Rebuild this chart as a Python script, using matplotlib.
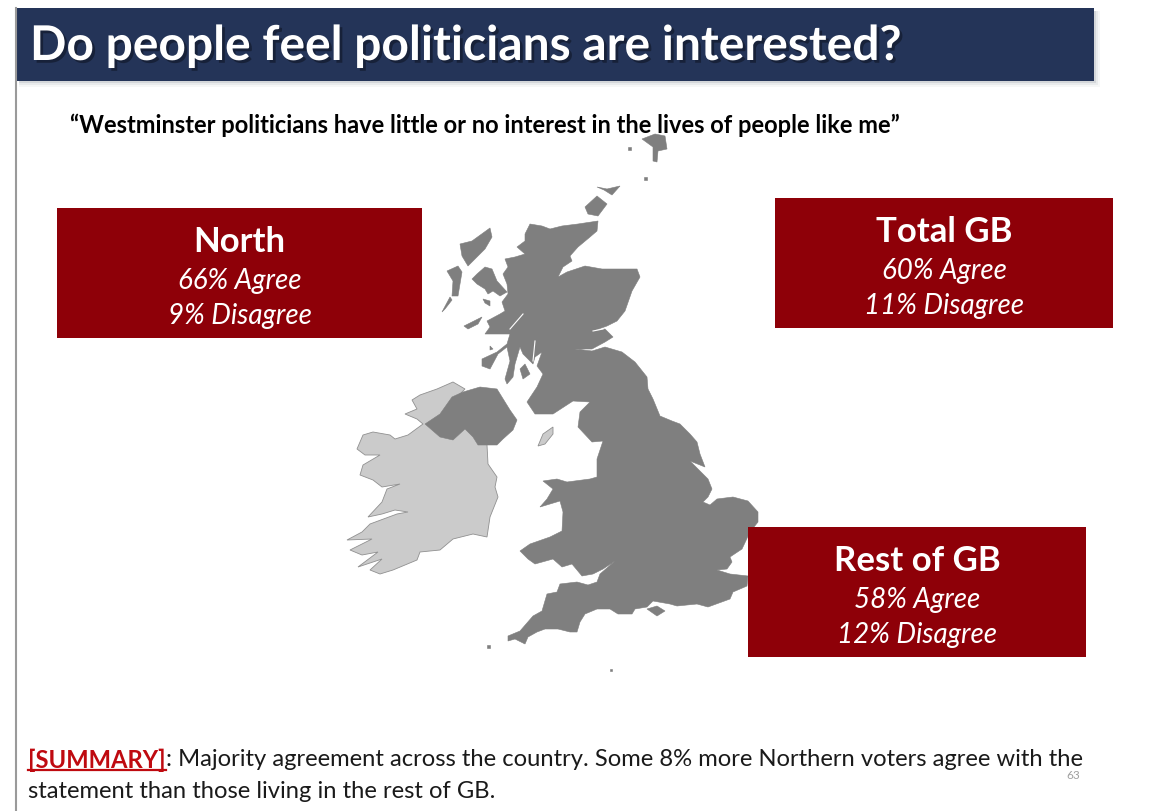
import matplotlib as mpl
mpl.use('Agg')
import matplotlib.pyplot as plt
import matplotlib.patheffects as pe
from matplotlib.patches import Polygon, Rectangle

plt.rcParams['font.family'] = ['Lato', 'DejaVu Sans']

# survey results per region
regions = ['North', 'Total GB', 'Rest of GB']
agree = [66, 60, 58]
disagree = [9, 11, 12]

title = 'Do people feel politicians are interested?'
quote = '\u201cWestminster politicians have little or no interest in the lives of people like me\u201d'
summary_tag = '[SUMMARY]'
summary_1 = ': Majority agreement across the country. Some 8% more Northern voters agree with the'
summary_2 = 'statement than those living in the rest of GB.'
page_no = '63'

RED = '#8e0008'
NAVY = '#243458'
DARK = '#7f7f7f'
LIGHT = '#cbcbcb'

# map outlines, in page pixels
gb = [(530,225),(542,227),(550,230),(562,227),(578,225),(598,222),(597,232),(590,238),(578,248),(570,257),
      (572,262),(563,268),(558,278),(567,273),(585,267),(602,270),(622,270),(637,270),(640,278),(632,292),
      (625,312),(617,322),(607,327),(593,332),(605,330),(613,338),(605,343),(592,350),(575,350),(592,352),
      (605,348),(622,353),(635,363),(647,378),(648,390),(653,400),(660,417),(672,422),(680,425),(690,435),
      (697,443),(700,455),(705,468),(690,462),(698,470),(708,480),(712,490),(708,498),(703,503),(710,506),
      (717,500),(733,498),(748,502),(758,513),(758,523),(750,533),(742,550),(730,558),(732,563),(727,570),
      (717,571),(730,575),(748,577),(747,587),(733,593),(730,600),(708,608),(697,605),(677,607),(670,605),
      (653,602),(647,608),(635,610),(632,615),(618,615),(610,610),(597,610),(585,615),(580,623),(577,633),
      (570,633),(558,630),(545,630),(537,633),(528,638),(525,645),(515,640),(508,642),(508,637),(520,632),
      (533,617),(542,612),(547,595),(557,593),(560,585),(577,583),(588,586),(597,583),(600,575),(615,562),
      (603,570),(593,575),(582,577),(572,565),(562,568),(553,560),(535,565),(528,560),(520,552),(530,545),
      (550,538),(562,532),(563,513),(560,502),(540,508),(547,500),(553,490),(543,482),(557,480),(567,483),
      (590,480),(597,478),(597,460),(603,442),(592,443),(578,428),(580,413),(590,403),(573,402),(553,415),
      (535,415),(527,403),(537,388),(543,375),(537,367),(542,353),(535,358),(533,365),(523,355),(520,348),
      (515,365),(513,378),(507,385),(505,380),(510,362),(507,348),(498,355),(490,370),(482,367),(482,360),
      (497,353),(507,345),(510,335),(485,335),(490,328),(487,322),(500,315),(505,312),(502,303),(508,295),
      (507,285),(503,275),(508,268),(505,260),(515,258),(525,255),(517,248),(525,242),(525,235)]
islands = [
    [(472,280),(477,275),(485,268),(492,270),(497,282),(507,293),(500,297),(493,292),(488,295),(485,290),(477,285)],
    [(460,245),(472,242),(490,229),(492,238),(485,250),(468,267),(462,257)],
    [(447,272),(458,267),(462,273),(458,297),(452,297),(453,282)],
    [(442,313),(450,298),(452,301),(445,310)],
    [(483,300),(490,302),(490,307),(485,304)],
    [(464,327),(482,318),(478,325),(468,330)],
    [(490,347),(493,350),(490,351)],
    [(520,370),(525,365),(530,375),(523,380)],
    [(585,208),(597,197),(607,205),(598,217),(588,215)],
    [(597,188),(607,190),(620,187),(612,196),(604,191)],
    [(642,140),(655,135),(665,137),(667,150),(658,152),(657,163),(653,162),(653,148)],
    [(644,178),(647,178),(647,181),(644,181)],
    [(628,148),(631,148),(631,151),(628,151)],
    [(647,610),(657,607),(665,612),(657,617)],
    [(487,646),(490,646),(490,649),(487,649)],
    [(610,670),(612,670),(612,672),(610,672)],
]
# thin sea lochs cut through the land
lochs = [[(523,315),(510,330)], [(535,342),(533,362)], [(593,332),(603,330)]]
n_ireland = [(425,425),(440,415),(452,398),(463,393),(480,388),(497,390),(510,411),(517,421),(513,431),
             (503,440),(497,446),(478,446),(473,438),(465,430),(453,441),(440,438)]
ireland = [(405,415),(417,410),(412,401),(420,396),(437,390),(453,383),(465,390),(457,398),(453,405),
           (487,446),(488,465),(497,478),(495,488),(498,498),(490,518),(487,538),(473,535),(453,540),
           (440,551),(420,553),(417,561),(393,571),(380,575),(370,571),(382,560),(358,568),(378,553),
           (362,556),(350,551),(372,540),(347,541),(362,533),(370,525),(397,515),(408,513),(395,511),
           (382,515),(368,518),(382,503),(387,490),(400,485),(382,488),(373,481),(360,476),(363,466),
           (380,456),(365,456),(357,450),(363,436),(373,433),(390,436),(395,440),(408,436),(423,425),(417,420)]
isle_of_man = [(538,447),(543,435),(553,428),(553,435),(545,445)]

# box corners: left, top, right, bottom
boxes = [(57,209,422,339), (775,199,1113,329), (748,528,1086,658)]

fig = plt.figure(figsize=(11.49, 8.12), dpi=100)
ax = fig.add_axes([0, 0, 1, 1])
ax.set_xlim(0, 1149)
ax.set_ylim(812, 0)
ax.axis('off')

# left page edge
ax.plot([16, 16], [9, 812], color='#9a9a9a', lw=1.5)

# title bar with soft shadow
for grow, alpha in [(6, 0.05), (4, 0.08), (2, 0.14)]:
    ax.add_patch(Rectangle((19, 12), 1075 + grow, 70 + grow, color='#5a6470', alpha=alpha, lw=0))
ax.add_patch(Rectangle((17, 9), 1077, 73, color=NAVY, lw=0))
ax.text(30, 47, title, color='white', fontsize=34.5, fontweight='bold', va='center',
        path_effects=[pe.withSimplePatchShadow(offset=(2, -2), shadow_rgbFace='black', alpha=0.35)])

ax.text(70, 125, quote, color='black', fontsize=17, fontweight='bold', va='center')

# map
ax.add_patch(Polygon(ireland, fc=LIGHT, ec='#909090', lw=0.6))
ax.add_patch(Polygon(isle_of_man, fc=LIGHT, ec='#909090', lw=0.6))
ax.add_patch(Polygon(n_ireland, fc=DARK, ec=DARK, lw=0.4))
ax.add_patch(Polygon(gb, fc=DARK, ec=DARK, lw=0.4))
for shape in islands:
    ax.add_patch(Polygon(shape, fc=DARK, ec=DARK, lw=0.4))
for loch in lochs:
    ax.plot(*zip(*loch), color='white', lw=0.8)

# region boxes
for name, a, d, (x0, y0, x1, y1) in zip(regions, agree, disagree, boxes):
    ax.add_patch(Rectangle((x0, y0), x1 - x0, y1 - y0, color=RED, lw=0, zorder=3))
    cx = (x0 + x1) / 2
    ax.text(cx, y0 + 33, name, color='white', fontsize=25, fontweight='bold',
            ha='center', va='center', zorder=4)
    ax.text(cx, y0 + 72, f'{a}% Agree', color='white', fontsize=20, style='italic',
            ha='center', va='center', zorder=4)
    ax.text(cx, y0 + 107, f'{d}% Disagree', color='white', fontsize=20, style='italic',
            ha='center', va='center', zorder=4)

# summary lines
tag = ax.text(28, 760, summary_tag, color='#bf0a10', fontsize=17.1, fontweight='bold', va='center')
fig.canvas.draw()
box = tag.get_window_extent().transformed(ax.transData.inverted())
ax.plot([box.x0, box.x1], [771, 771], color='#bf0a10', lw=1.6)
ax.text(box.x1, 760, summary_1, color='#1a1a1a', fontsize=17.1, va='center')
ax.text(28, 792, summary_2, color='#1a1a1a', fontsize=17.1, va='center')
ax.text(1073, 776, page_no, color='#a0a0a0', fontsize=8.5, ha='center', va='center')

plt.savefig('out.png', dpi=100)
plt.close()
